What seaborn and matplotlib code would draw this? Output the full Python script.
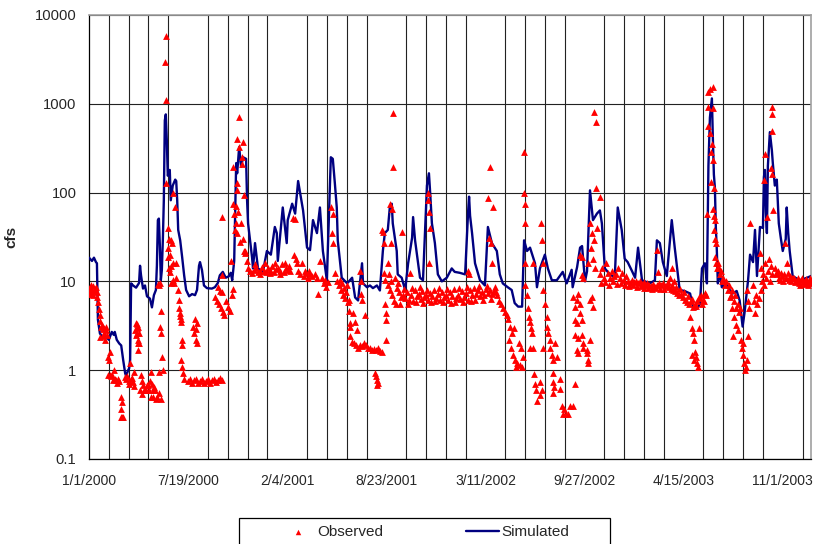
import matplotlib
matplotlib.use("Agg")
import matplotlib.pyplot as plt
from matplotlib.patches import Rectangle
import seaborn as sns
import pandas as pd
import numpy as np

# ---------------- data ----------------
START = "2000-01-01"   # day 0 of the series

# Simulated flow (day offset, cfs)
sim_day = [0, 6, 10, 14, 16, 18, 22, 28, 34, 40, 46, 50, 52, 56, 61, 65, 69, 73, 75, 79, 81, 83, 85, 89, 95,
           101, 103, 105, 109, 113, 117, 123, 127, 131, 135, 137, 139, 141, 143, 145, 147, 149, 151, 153, 155,
           157, 159, 163, 165, 167, 169, 174, 176, 178, 180, 184, 188, 192, 196, 202, 208, 214, 218, 222, 224,
           228, 232, 238, 248, 254, 260, 264, 270, 276, 282, 286, 289, 293, 297, 299, 303, 307, 311, 317, 319,
           321, 329, 331, 335, 341, 351, 359, 367, 375, 379, 381, 391, 399, 401, 410, 416, 422, 426, 432, 440,
           446, 452, 460, 466, 472, 480, 488, 492, 496, 500, 502, 510, 521, 531, 537, 543, 551, 553, 561, 567,
           573, 581, 587, 593, 597, 603, 607, 611, 613, 621, 623, 631, 638, 644, 652, 654, 658, 668, 674, 682,
           686, 688, 692, 698, 704, 712, 722, 732, 738, 748, 759, 765, 767, 769, 773, 779, 789, 799, 805, 813,
           823, 829, 835, 845, 853, 859, 866, 874, 878, 884, 890, 900, 904, 910, 920, 926, 934, 944, 950, 956,
           964, 974, 976, 985, 991, 995, 1001, 1005, 1011, 1017, 1025, 1031, 1035, 1041, 1051, 1061, 1067, 1075,
           1081, 1087, 1096, 1102, 1108, 1116, 1122, 1132, 1142, 1146, 1152, 1158, 1166, 1176, 1182, 1192, 1202,
           1213, 1219, 1227, 1233, 1237, 1243, 1247, 1250, 1253, 1257, 1259, 1261, 1263, 1265, 1267, 1269, 1273,
           1277, 1283, 1293, 1299, 1307, 1313, 1319, 1323, 1330, 1334, 1340, 1344, 1348, 1354, 1360, 1362, 1364,
           1366, 1368, 1370, 1374, 1378, 1380, 1384, 1388, 1392, 1396, 1400, 1406, 1408, 1411, 1414, 1420, 1434,
           1449, 1457]
sim_cfs = [18.5, 17, 18.5, 16.5, 16, 3.7, 2.6, 2.3, 2.4, 2.2, 2.7, 2.5, 2.7, 2.2, 2.0, 1.9, 1.3, 0.92, 0.86, 1.0,
           1.05, 1.3, 9.5, 9.0, 8.5, 9.6, 15, 11.7, 8.3, 9.0, 6.8, 6.4, 5.1, 7.0, 8.0, 15, 49, 51, 25, 10.3, 13.4,
           29, 82, 650, 760, 390, 155, 180, 82, 100, 120, 140, 135, 82, 38, 29, 18.7, 11.7, 8.0, 6.8, 7.2, 7.0,
           8.0, 15, 16.5, 13.4, 9.0, 8.4, 8.3, 8.6, 9.6, 11.7, 12.8, 11, 11.4, 12.5, 10.3, 17, 215, 165, 325, 195,
           250, 240, 82, 45, 18.7, 14, 27, 14, 12.8, 22, 20, 41, 35, 17, 68, 27, 49, 75, 58, 135, 100, 63, 24,
           22.5, 49, 35, 68, 22, 10.3, 250, 240, 130, 68, 29, 11, 9.5, 11, 6.6, 6.1, 16, 9.5, 8.6, 9, 8.4, 9, 7.9,
           22, 35, 38, 68, 75, 45, 22, 12, 11, 8, 16, 31, 53, 29, 11, 10.3, 120, 165, 110, 45, 27, 12, 10, 11, 14,
           12.8, 12.5, 12, 60, 90, 55, 35, 16, 10.3, 9, 41, 27, 22, 12, 9.5, 8.6, 8, 5.7, 5.2, 5.2, 29, 22, 24, 16,
           8.6, 14, 20, 14, 10.3, 10.3, 11.5, 12.8, 9.5, 13.5, 8.6, 14.5, 24, 25, 10, 13, 106, 49, 58, 63, 45, 14,
           12, 11, 68, 38, 18, 16.5, 13, 11, 24, 10.3, 10, 9.5, 10.3, 29, 27, 16.5, 11.5, 49, 24, 8, 7.8, 7.3,
           5.1, 4.9, 5.6, 14, 16, 9.5, 200, 700, 1150, 400, 160, 115, 40, 22, 9.5, 12.8, 8.6, 10, 8, 7.3, 7.8,
           6.1, 3.1, 4.5, 10.3, 20, 16.5, 38, 11.5, 41, 40, 150, 180, 60, 35, 200, 480, 300, 213, 120, 140, 45,
           31, 22, 30, 68, 35, 22, 11.5, 10.3, 11, 11.5]

# Observed flow (day offset, cfs), grouped by period
obs_2000a = [(0, 8), (1, 7.2), (2, 8.7), (3, 7.6), (4, 9), (5, 8.2), (6, 7.3), (8, 8.8), (9, 7), (10, 7.8),
             (12, 8.3), (13, 8), (14, 8.6), (16, 7.6), (17, 6.6), (19, 5.8), (20, 4.9), (22, 4.2), (23, 3.6),
             (23, 2.35), (24, 3.1), (26, 3.2), (28, 2.9), (29, 2.4), (30, 3.0), (31, 2.6), (32, 2.2), (34, 3.1),
             (35, 2.8), (36, 2.5), (38, 1.4), (40, 1.3), (42, 1.6), (38, 0.88), (42, 0.88), (44, 0.85),
             (46, 0.88), (48, 0.77), (52, 0.8), (54, 0.77), (50, 1.0), (56, 0.72), (58, 0.8), (60, 0.75),
             (64, 0.5), (66, 0.44), (64, 0.37), (64, 0.3), (68, 0.3), (66, 0.3), (73, 0.83), (75, 0.8),
             (77, 0.86), (83, 1.2), (85, 0.8), (87, 0.82), (89, 0.74), (91, 0.67), (91, 0.95), (80, 0.75),
             (81, 0.7), (95, 3.4), (97, 3.0), (99, 3.1), (93, 2.8), (97, 2.6), (101, 2.6), (95, 2.5), (99, 2.2),
             (101, 2.0), (99, 1.7), (96, 3.3), (98, 2.0), (103, 0.6), (105, 0.88), (107, 0.75), (109, 0.68),
             (107, 0.54), (111, 0.6), (113, 0.6), (117, 0.68), (119, 0.68), (121, 0.6), (123, 0.75),
             (125, 0.95), (127, 0.7), (129, 0.6), (125, 0.5), (115, 0.6), (131, 0.65), (133, 0.6), (135, 0.48),
             (130, 0.5), (139, 9.3), (141, 9.0), (143, 9.5), (145, 4.7), (143, 3.1), (145, 2.6), (147, 1.4),
             (149, 1.0), (145, 0.48), (141, 0.95), (137, 0.5), (141, 0.55), (155, 5760), (154, 2940),
             (156, 1090), (156, 128), (169, 98), (159, 24), (159, 18.7), (161, 14), (163, 12.8), (165, 29),
             (167, 27), (169, 16), (169, 10.3), (171, 9.6), (165, 9.6), (173, 68), (175, 16), (176, 10.8),
             (160, 40), (162, 30), (163, 20), (166, 15)]
obs_2000b = [(180, 8), (182, 6.1), (182, 5.0), (184, 4.4), (186, 3.8), (186, 3.5), (184, 4.1), (188, 2.2),
             (188, 1.9), (186, 1.3), (187, 1.1), (190, 0.93), (191, 0.8), (210, 3.1), (214, 3.8), (217, 3.4),
             (212, 2.6), (215, 2.2), (218, 2.0), (216, 2.9), (200, 0.75), (204, 0.8), (208, 0.72), (212, 0.78),
             (216, 0.8), (220, 0.72), (224, 0.75), (228, 0.8), (232, 0.72), (236, 0.76), (240, 0.8),
             (244, 0.72), (248, 0.78), (252, 0.8), (256, 0.74), (260, 0.78), (264, 0.82), (268, 0.78),
             (254, 6.6), (258, 6.0), (262, 5.5), (266, 5.0), (270, 4.5), (272, 4.2), (260, 8.6), (264, 7.8),
             (268, 7.5), (276, 6.0), (280, 5.2), (284, 4.6), (268, 53), (268, 11.7), (286, 17), (288, 7.0),
             (290, 8.3), (291, 75), (293, 58), (297, 70), (297, 45), (295, 38), (299, 35), (291, 195),
             (299, 400), (303, 710), (303, 330), (311, 370), (309, 250), (309, 210), (299, 128), (299, 106),
             (313, 94), (315, 22), (315, 21), (319, 17), (301, 60), (305, 28), (307, 45), (311, 30), (313, 22)]
obs_2001 = [(321, 14), (325, 13), (329, 12.5), (333, 13.5), (337, 14), (341, 12.8), (345, 13.2), (349, 14.5),
            (353, 13), (357, 12.6), (361, 14), (365, 13.5), (369, 15), (373, 12.8), (377, 13.7), (381, 14.2),
            (385, 13), (389, 15.5), (393, 12.6), (397, 14), (401, 13.3), (405, 13), (335, 15.5), (355, 16),
            (375, 16), (395, 16.3), (345, 12.2), (365, 12.4), (385, 12.2), (403, 15), (412, 52), (416, 50),
            (414, 20), (418, 18), (420, 16), (422, 13), (426, 12), (430, 16), (434, 11.5), (438, 12.5),
            (442, 11), (446, 12), (450, 11.5), (444, 13), (436, 13), (456, 12), (462, 7.3), (466, 17),
            (460, 11), (470, 10.8), (474, 9.5), (478, 8.6), (482, 9.8), (476, 10.3), (488, 68), (492, 58),
            (490, 35), (492, 27), (496, 12.5), (500, 10), (504, 9), (508, 8), (512, 7), (516, 6.5),
            (506, 10.5), (510, 9.5), (514, 8.5), (518, 7.5), (520, 9), (524, 6.2), (522, 5.8), (525, 4.6),
            (526, 3.4), (527, 3.1), (527, 2.4), (531, 2.1), (535, 2.0), (539, 1.9), (543, 1.8), (547, 1.9),
            (551, 1.85), (533, 4.4), (537, 3.5), (541, 2.8), (547, 13), (549, 10), (548, 7.3), (551, 6.1),
            (555, 2.0), (559, 1.9), (563, 1.8), (567, 1.8), (571, 1.7), (575, 1.75), (579, 1.7), (583, 1.8),
            (587, 1.65), (591, 1.6), (557, 4.2), (577, 0.92), (579, 0.85), (581, 0.78), (583, 0.72),
            (581, 0.68), (591, 38), (593, 36), (595, 27), (595, 12.5), (597, 10.3), (597, 5.5), (599, 4.4),
            (599, 3.7), (599, 2.2), (607, 75), (611, 65), (609, 27), (613, 780), (613, 195), (603, 16),
            (605, 12), (609, 10), (603, 9), (607, 8), (611, 7), (615, 6), (619, 5.5), (621, 8.5), (625, 7.5),
            (629, 6.6), (631, 36), (617, 11), (623, 9.5), (627, 5.5)]
obs_2002a = [(633, 7), (637, 6.5), (641, 7.5), (645, 6.2), (649, 7), (653, 6), (657, 8), (661, 6.8),
             (665, 7.2), (669, 6.4), (673, 7.8), (677, 6.6), (681, 7), (685, 6.2), (689, 7.4), (693, 6.8),
             (697, 8), (701, 6.5), (705, 7.2), (709, 6.2), (713, 7.6), (717, 6.6), (721, 7), (725, 6.2),
             (729, 7.6), (733, 6.8), (737, 8.2), (741, 6.5), (745, 7), (749, 6.3), (753, 7.8), (757, 6.6),
             (761, 7.4), (765, 6.2), (769, 8), (773, 7), (777, 8.4), (781, 7.2), (785, 8), (789, 6.8),
             (793, 7.6), (797, 7), (801, 8.2), (805, 7.4), (809, 8), (813, 7.2), (817, 7.8), (821, 7.5),
             (635, 8.2), (643, 5.6), (651, 8.4), (659, 5.8), (667, 8.6), (675, 5.7), (683, 8.1), (691, 5.9),
             (699, 6), (707, 8.4), (715, 5.8), (723, 8.2), (731, 5.7), (739, 5.9), (747, 8.5), (755, 5.8),
             (763, 8.6), (771, 6), (779, 6.2), (787, 8.8), (795, 6.1), (803, 8.9), (811, 6.3), (819, 8.6),
             (648, 12.5), (684, 82), (686, 60), (688, 40), (686, 16), (684, 100), (765, 13), (767, 12),
             (809, 195), (805, 87), (807, 31), (811, 27), (813, 16), (815, 68)]
obs_2002b = [(823, 7), (827, 6), (831, 5.5), (835, 5), (839, 4.5), (843, 4.2), (845, 3.8), (849, 3.1),
             (853, 2.6), (857, 3.0), (847, 2.2), (851, 1.8), (855, 1.5), (859, 1.3), (863, 1.2), (861, 1.1),
             (869, 1.15), (871, 1.8), (874, 1.1), (876, 1.4), (868, 2.0), (878, 290), (878, 100), (880, 75),
             (880, 45), (880, 16), (880, 9), (884, 7), (886, 5), (888, 4), (890, 3.5), (892, 3), (894, 2.6),
             (890, 1.8), (896, 1.8), (898, 0.9), (900, 0.7), (902, 0.6), (904, 0.45), (896, 16), (912, 45),
             (914, 29), (916, 16), (916, 8), (920, 5.5), (924, 4.0), (924, 3.1), (926, 2.6), (930, 2.2),
             (930, 1.8), (934, 1.5), (936, 1.3), (940, 2.0), (944, 1.4), (916, 1.8), (910, 0.73), (914, 0.6),
             (910, 0.52), (936, 0.92), (936, 0.74), (938, 0.64), (936, 0.55), (950, 0.8), (950, 0.62),
             (954, 0.4), (956, 0.32), (962, 0.32), (966, 0.32), (970, 0.4), (976, 0.4), (980, 0.7), (958, 0.37),
             (976, 6.6), (980, 5.1), (984, 6.1), (986, 7.3), (991, 5.6), (980, 3.7), (984, 3.4), (991, 4.4),
             (994, 3.7), (980, 2.5), (986, 2.3), (994, 2.5), (997, 2.0), (984, 1.7), (986, 1.55), (997, 1.8),
             (1004, 1.7), (1004, 1.55), (1007, 1.3), (1011, 2.2), (1015, 6.6), (1017, 5.1), (1011, 6.1),
             (1007, 1.2), (991, 20), (994, 11.7), (997, 11), (995, 19), (1019, 800), (1023, 620), (1023, 112),
             (1031, 89), (1011, 45), (1015, 35), (1019, 29), (1025, 40), (1013, 24), (1017, 18), (1021, 14),
             (1007, 16)]
obs_2003 = [(1031, 12), (1035, 14), (1039, 11), (1043, 16), (1047, 12.5), (1051, 11), (1055, 13), (1059, 11.5),
            (1063, 12), (1067, 14), (1071, 11), (1075, 12.5), (1079, 10.5), (1083, 11.5), (1087, 10),
            (1091, 9.5), (1095, 10.5), (1099, 9.8), (1103, 10.2), (1107, 9.5), (1111, 10), (1115, 9.3),
            (1119, 9.8), (1123, 9.2), (1127, 9.6), (1131, 9), (1135, 8.8), (1139, 9.4), (1143, 8.7),
            (1147, 9.2), (1151, 9.6), (1155, 9), (1159, 9.5), (1163, 8.8), (1167, 9.2), (1171, 8.6),
            (1175, 8.2), (1179, 8), (1183, 7.8), (1187, 7.4), (1191, 7), (1195, 7.2), (1199, 6.6), (1203, 6.2),
            (1207, 5.8), (1211, 5.5), (1215, 6), (1219, 5.2), (1223, 5.6), (1227, 6), (1231, 6.6), (1235, 7),
            (1239, 6.2), (1243, 7.4), (1033, 9.5), (1041, 9.8), (1049, 9.2), (1057, 10.2), (1065, 9.4),
            (1073, 9.6), (1081, 9), (1089, 8.8), (1097, 9), (1105, 8.6), (1113, 8.8), (1121, 8.4), (1129, 8.5),
            (1137, 8.2), (1145, 8.4), (1153, 8.3), (1161, 8.2), (1169, 9.8), (1177, 9), (1185, 8.6),
            (1193, 8.2), (1201, 7.5), (1209, 6.8), (1217, 6.4), (1225, 5.3), (1146, 22.5), (1148, 12.8),
            (1176, 14), (1172, 11), (1180, 10), (1213, 4), (1217, 3.0), (1219, 2.6), (1221, 2.2), (1223, 1.6),
            (1225, 1.4), (1227, 1.2), (1229, 1.1), (1231, 3.0), (1221, 1.3), (1217, 1.5), (1233, 6.5),
            (1237, 5.5), (1241, 6), (1245, 7), (1247, 58), (1249, 1350), (1253, 1450), (1259, 1550),
            (1249, 910), (1259, 890), (1249, 560), (1253, 470), (1257, 350), (1255, 285), (1259, 230),
            (1255, 130), (1261, 112), (1259, 65), (1261, 55), (1263, 49), (1261, 38), (1263, 30), (1265, 27),
            (1263, 19), (1265, 16), (1267, 14), (1269, 16), (1271, 14), (1273, 12), (1275, 13), (1277, 10),
            (1279, 11), (1283, 9), (1285, 10), (1289, 8), (1291, 9), (1295, 7), (1297, 8), (1301, 6),
            (1303, 7), (1305, 5), (1309, 5.5), (1311, 4.5), (1313, 5), (1293, 6.6), (1297, 5), (1301, 4),
            (1305, 3.2), (1309, 2.8), (1299, 2.4), (1315, 2.2), (1317, 1.8), (1319, 1.5), (1321, 1.2),
            (1323, 1.0), (1325, 1.1), (1327, 1.3), (1319, 2.0), (1330, 2.4), (1328, 8), (1330, 6), (1332, 5),
            (1334, 45), (1340, 9), (1342, 6), (1344, 4.4), (1346, 7), (1348, 5.5), (1352, 6.5), (1356, 8),
            (1354, 21), (1356, 14), (1358, 10), (1360, 12), (1362, 9), (1364, 16), (1366, 11), (1368, 53),
            (1370, 13), (1372, 18), (1374, 10), (1376, 15), (1378, 12), (1380, 63), (1378, 910), (1378, 760),
            (1378, 490), (1364, 275), (1362, 138), (1376, 190), (1378, 160), (1384, 14), (1388, 12),
            (1392, 11), (1396, 12.5), (1400, 10), (1404, 27), (1406, 11), (1408, 16), (1412, 10.5),
            (1416, 10), (1420, 11), (1424, 9.8), (1428, 10.2), (1432, 9.5), (1436, 10.5), (1440, 9.8),
            (1444, 10), (1448, 9.5), (1452, 10.2), (1456, 9.6), (1386, 12.5), (1390, 13), (1394, 10.5),
            (1398, 11.5), (1402, 12), (1410, 12.5), (1414, 11.5), (1418, 10.8), (1422, 11), (1426, 10.2),
            (1430, 11), (1434, 9.2), (1438, 10.8), (1442, 9.4), (1446, 10.6), (1450, 9.2), (1454, 10.8)]

x_tick_labels = ["1/1/2000", "7/19/2000", "2/4/2001", "8/23/2001", "3/11/2002", "9/27/2002",
                 "4/15/2003", "11/1/2003"]
y_tick_values = [0.1, 1, 10, 100, 1000, 10000]
y_tick_labels = ["0.1", "1", "10", "100", "1000", "10000"]
grid_step_days = 40
last_day = 1457

# ---------------- build frames ----------------
base = pd.Timestamp(START)
sim = pd.DataFrame({"date": base + pd.to_timedelta(sim_day, unit="D"), "cfs": sim_cfs})
obs_pairs = obs_2000a + obs_2000b + obs_2001 + obs_2002a + obs_2002b + obs_2003
obs = pd.DataFrame(obs_pairs, columns=["day", "cfs"])
obs["date"] = base + pd.to_timedelta(obs["day"], unit="D")

# ---------------- plot ----------------
sns.set_style("white")
plt.rcParams["font.family"] = ["Liberation Sans", "DejaVu Sans"]

W, H = 814, 544
fig = plt.figure(figsize=(W / 100, H / 100), dpi=100)
ax = fig.add_axes([89 / W, 85 / H, 722 / W, 444 / H])

sns.lineplot(data=sim, x="date", y="cfs", ax=ax, color="#000080", linewidth=1.7,
             estimator=None, sort=False, label="Simulated", zorder=3)
sns.scatterplot(data=obs, x="date", y="cfs", ax=ax, marker="^", color="#ff0000",
                s=24, linewidth=0, label="Observed", zorder=4)

ax.set_yscale("log")
ax.set_ylim(0.1, 10000)
ax.set_xlim(base, base + pd.Timedelta(days=last_day))

major = pd.to_datetime(x_tick_labels, format="%m/%d/%Y")
ax.set_xticks(major)
ax.set_xticklabels(x_tick_labels)
minor = [base + pd.Timedelta(days=d) for d in range(0, last_day + 1, grid_step_days)]
ax.set_xticks(minor, minor=True)
ax.set_yticks(y_tick_values)
ax.set_yticklabels(y_tick_labels)
ax.yaxis.set_minor_locator(matplotlib.ticker.NullLocator())

ax.tick_params(axis="x", which="major", direction="out", length=4, width=0.8, color="black",
               labelsize=10, pad=7)
ax.tick_params(axis="x", which="minor", length=0)
ax.tick_params(axis="y", which="major", direction="out", length=4, width=0.8, color="black",
               labelsize=10.6, pad=5)

ax.grid(False)
ax.grid(True, axis="x", which="minor", color="#222222", linewidth=0.8)
ax.grid(True, axis="y", which="major", color="#222222", linewidth=0.8)
ax.set_axisbelow(True)

for side in ["left", "bottom"]:
    ax.spines[side].set_color("black")
    ax.spines[side].set_linewidth(0.9)
for side in ["top", "right"]:
    ax.spines[side].set_color("#a0a0a0")
    ax.spines[side].set_linewidth(1.2)

ax.set_xlabel("")
ax.set_ylabel("cfs", fontsize=11, fontweight="bold")
ax.yaxis.set_label_coords((18 - 89) / 722, 0.5)

# legend: frame drawn as a rectangle (runs off the bottom edge like the reference)
ax.get_legend().remove()
frame = Rectangle((239.5 / W, -0.02), (610 - 239.5) / W, 0.02 + (H - 517.5) / H,
                  transform=fig.transFigure, facecolor="white", edgecolor="black",
                  linewidth=0.9, zorder=1)
fig.patches.append(frame)
handles, labels = ax.get_legend_handles_labels()
order = [labels.index("Observed"), labels.index("Simulated")]
leg = fig.legend([handles[i] for i in order], [labels[i] for i in order],
                 loc="center left", bbox_to_anchor=(281 / W, 1 - 532 / H), ncol=2,
                 frameon=False, fontsize=11, borderpad=0, borderaxespad=0,
                 columnspacing=5.4, handlelength=2.16, handletextpad=0.2,
                 markerscale=0.8)
leg.set_zorder(2)

fig.savefig("out.png", dpi=100, facecolor="white")
